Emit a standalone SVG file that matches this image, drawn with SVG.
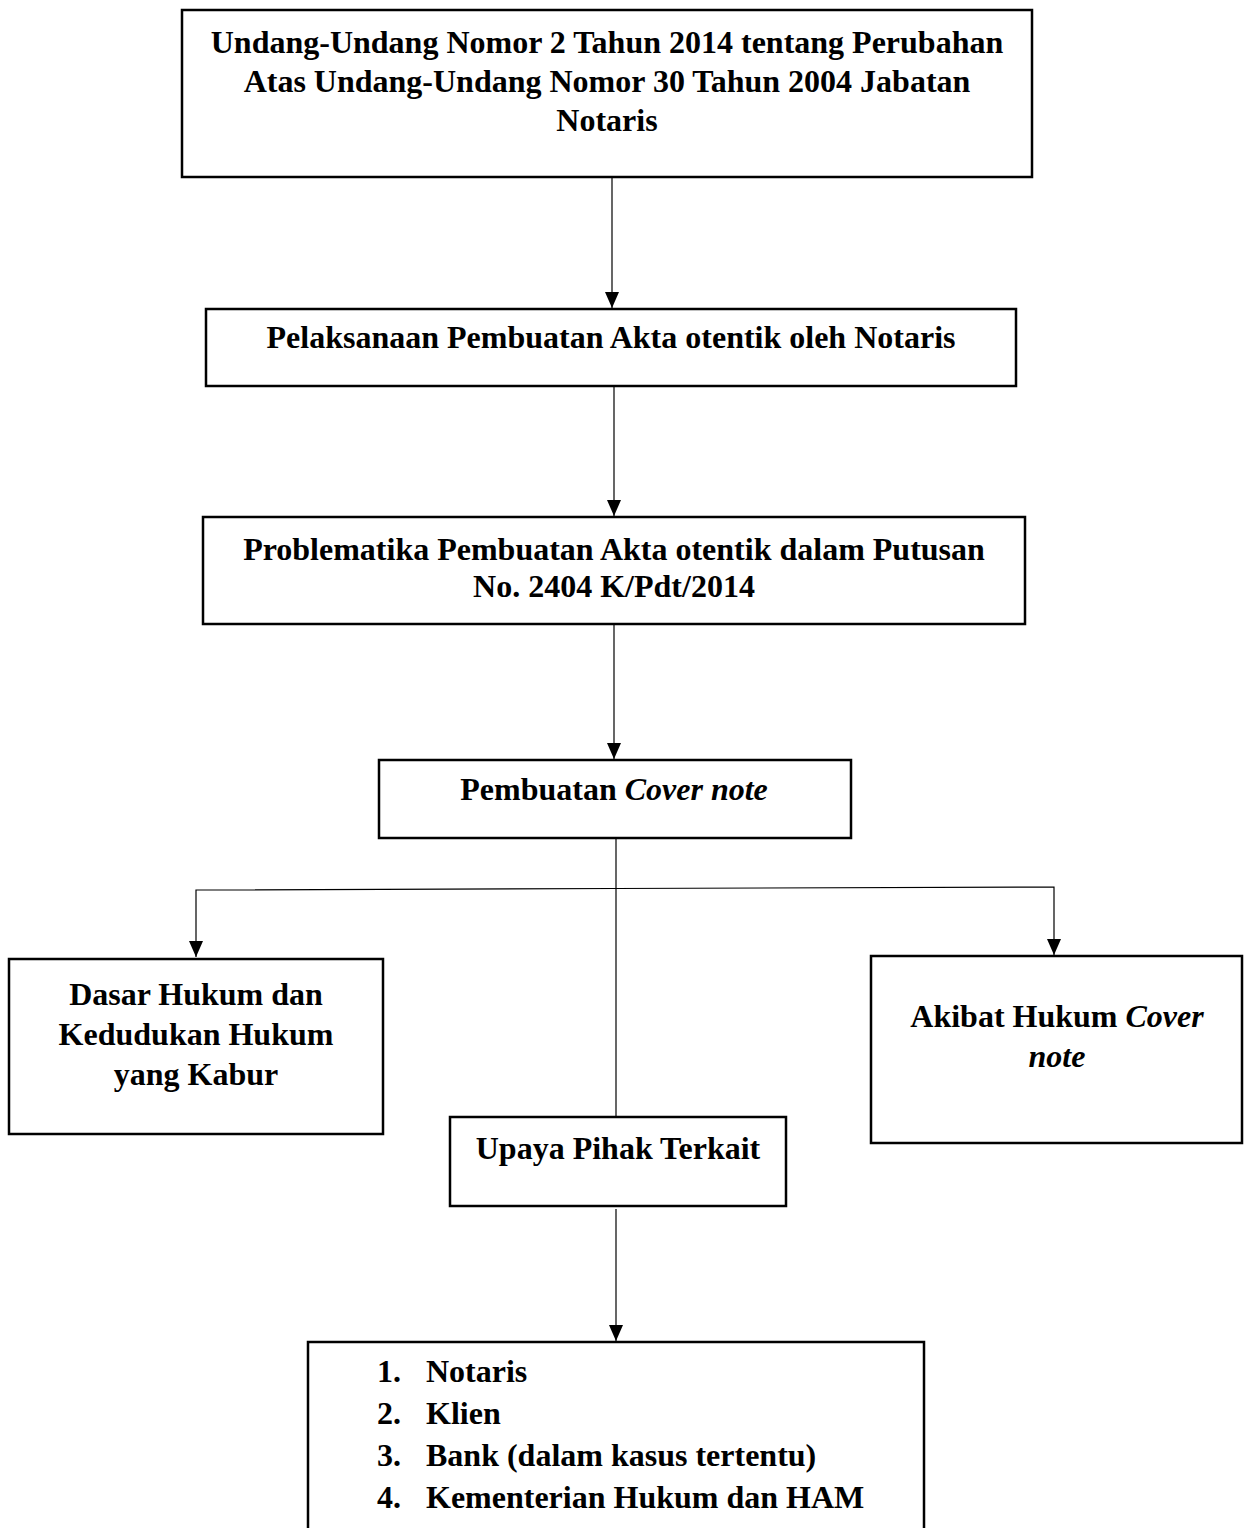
<svg xmlns="http://www.w3.org/2000/svg" width="1244" height="1528" viewBox="0 0 1244 1528">
<style>
.box{fill:#fff;stroke:#000;stroke-width:2.5}
.t{font-family:"Liberation Serif","Times New Roman",serif;font-weight:bold;font-size:32px;fill:#000;text-anchor:middle}
.l{text-anchor:start}
.i{font-style:italic}
.c{fill:none;stroke:#000;stroke-width:1.2}
</style>
<defs>
<marker id="ah" markerWidth="16" markerHeight="14" refX="16" refY="7" orient="auto" markerUnits="userSpaceOnUse" viewBox="0 0 16 14">
<path d="M0,0 L16,7 L0,14 Z" fill="#000"/>
</marker>
</defs>
<rect width="1244" height="1528" fill="#fff"/>
<g id="connectors">
<line class="c" x1="612" y1="177" x2="612" y2="308" marker-end="url(#ah)"/>
<line class="c" x1="614" y1="386" x2="614" y2="516" marker-end="url(#ah)"/>
<line class="c" x1="614" y1="624" x2="614" y2="759" marker-end="url(#ah)"/>
<line class="c" x1="616" y1="836" x2="616" y2="1117"/>
<polyline class="c" points="616,888.5 196,890 196,957" marker-end="url(#ah)"/>
<polyline class="c" points="616,888.5 1054,887 1054,955" marker-end="url(#ah)"/>
<line class="c" x1="616" y1="1209" x2="616" y2="1341" marker-end="url(#ah)"/>
</g>
<g id="n1">
<rect class="box" x="182" y="10" width="850" height="167"/>
<text class="t" x="607" y="53">Undang-Undang Nomor 2 Tahun 2014 tentang Perubahan</text>
<text class="t" x="607" y="92">Atas Undang-Undang Nomor 30 Tahun 2004 Jabatan</text>
<text class="t" x="607" y="131">Notaris</text>
</g>
<g id="n2">
<rect class="box" x="206" y="309" width="810" height="77"/>
<text class="t" x="611" y="348">Pelaksanaan Pembuatan Akta otentik oleh Notaris</text>
</g>
<g id="n3">
<rect class="box" x="203" y="517" width="822" height="107"/>
<text class="t" x="614" y="560">Problematika Pembuatan Akta otentik dalam Putusan</text>
<text class="t" x="614" y="597">No. 2404 K/Pdt/2014</text>
</g>
<g id="n4">
<rect class="box" x="379" y="760" width="472" height="78"/>
<text class="t" x="614" y="800">Pembuatan <tspan class="i">Cover note</tspan></text>
</g>
<g id="n5">
<rect class="box" x="9" y="959" width="374" height="175"/>
<text class="t" x="196" y="1005">Dasar Hukum dan</text>
<text class="t" x="196" y="1045">Kedudukan Hukum</text>
<text class="t" x="196" y="1085">yang Kabur</text>
</g>
<g id="n6">
<rect class="box" x="871" y="956" width="371" height="187"/>
<text class="t" x="1057" y="1027">Akibat Hukum <tspan class="i">Cover</tspan></text>
<text class="t i" x="1057" y="1067">note</text>
</g>
<g id="n7">
<rect class="box" x="450" y="1117" width="336" height="89"/>
<text class="t" x="618" y="1159">Upaya Pihak Terkait</text>
</g>
<g id="n8">
<rect class="box" x="308" y="1342" width="616" height="200"/>
<text class="t l" x="377" y="1382">1.</text><text class="t l" x="426" y="1382">Notaris</text>
<text class="t l" x="377" y="1424">2.</text><text class="t l" x="426" y="1424">Klien</text>
<text class="t l" x="377" y="1466">3.</text><text class="t l" x="426" y="1466">Bank (dalam kasus tertentu)</text>
<text class="t l" x="377" y="1508">4.</text><text class="t l" x="426" y="1508">Kementerian Hukum dan HAM</text>
</g>
</svg>
